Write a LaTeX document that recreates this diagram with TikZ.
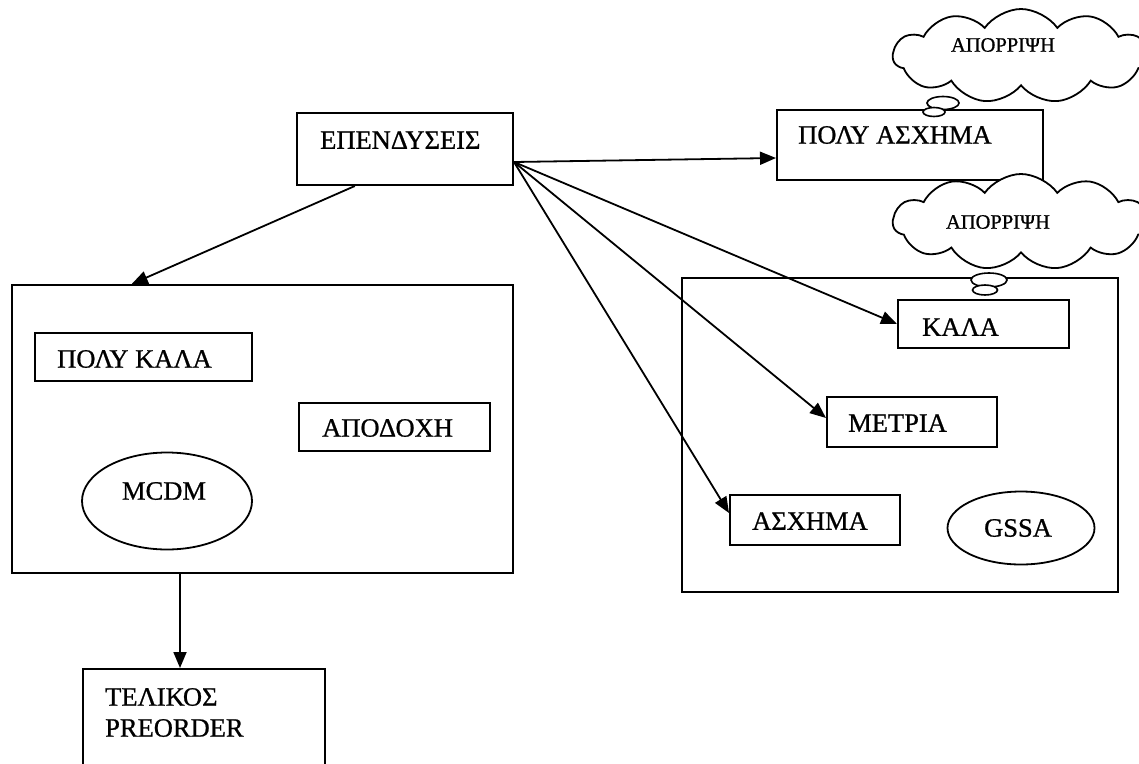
\documentclass[tikz,border=0pt]{standalone}
\usepackage{fontspec}
\setmainfont{Liberation Serif}[FakeBold=0.8]
\usetikzlibrary{arrows.meta,shapes.geometric,shapes.symbols,calc}

\tikzset{
  box/.style={draw, line width=2pt, rectangle, inner sep=0pt},
  oval/.style={draw, line width=1.8pt, ellipse, inner sep=0pt},
  lbl/.style={inner sep=0pt, font=\fontsize{26.5}{29}\selectfont},
  cloudlbl/.style={inner sep=0pt, font=\fontsize{20.5}{22}\selectfont},
  thought/.style={draw, fill=white, line width=1.8pt, cloud, cloud puffs=11,
    cloud puff arc=110, cloud ignores aspect, inner sep=0pt},
  bubble/.style={draw, fill=white, line width=1.6pt, ellipse, inner sep=0pt},
  arr/.style={line width=1.8pt, -{Triangle[length=16pt,width=13pt]}},
}

\begin{document}
\begin{tikzpicture}[x=1pt,y=-1pt]
  \useasboundingbox (0,0) rectangle (1139,763);
  \clip (0,0) rectangle (1139,763);

  % source box
  \node[box, minimum width=216pt, minimum height=72pt] (inv) at (405,149) {};
  \node[lbl, anchor=west] (invT) at (320,140) {ΕΠΕΝΔΥΣΕΙΣ};

  % very bad case, rejected
  \node[box, minimum width=266pt, minimum height=70pt] (pa) at (910,145) {};
  \node[lbl, anchor=west] (paT) at (798,135) {ΠΟΛΥ ΑΣΧΗΜΑ};

  % accepted group
  \node[box, minimum width=501pt, minimum height=288pt] (lgroup) at (262.5,429) {};
  \node[box, minimum width=217pt, minimum height=48pt] (pk) at (143.5,357) {};
  \node[lbl, anchor=west] (pkT) at (57,359) {ΠΟΛΥ ΚΑΛΑ};
  \node[box, minimum width=191pt, minimum height=48pt] (apo) at (394.5,427) {};
  \node[lbl, anchor=west] (apoT) at (322,428) {ΑΠΟΔΟΧΗ};
  \node[oval, minimum width=170pt, minimum height=97pt] (mcdm) at (167,501) {};
  \node[lbl] (mcdmT) at (164,491) {MCDM};

  % group handled by GSSA
  \node[box, minimum width=436pt, minimum height=314pt] (rgroup) at (900,435) {};
  \node[box, minimum width=171pt, minimum height=48pt] (kala) at (983.5,324) {};
  \node[lbl, anchor=west] (kalaT) at (922,327) {ΚΑΛΑ};
  \node[box, minimum width=170pt, minimum height=50pt] (metria) at (912,422) {};
  \node[lbl, anchor=west] (metriaT) at (848,423) {ΜΕΤΡΙΑ};
  \node[box, minimum width=170pt, minimum height=50pt] (asx) at (815,520) {};
  \node[lbl, anchor=west] (asxT) at (752,521) {ΑΣΧΗΜΑ};
  \node[oval, minimum width=147pt, minimum height=73pt] (gssa) at (1021,528) {};
  \node[lbl] (gssaT) at (1018,528) {GSSA};

  % final preorder
  \node[box, minimum width=242pt, minimum height=131pt] (tel) at (204,734.5) {};
  \node[lbl, anchor=west] (telT1) at (105,697) {ΤΕΛΙΚΟΣ};
  \node[lbl, anchor=west] (telT2) at (105,728) {PREORDER};

  % thought clouds
  \node[thought, minimum width=256pt, minimum height=94pt] (c1) at (1021,56) {};
  \node[cloudlbl] (c1T) at (1003,45) {ΑΠΟΡΡΙΨΗ};
  \node[bubble, minimum width=32pt, minimum height=13pt] (c1b1) at (943,103) {};
  \node[bubble, minimum width=22pt, minimum height=9pt] (c1b2) at (934,112) {};

  \node[thought, minimum width=256pt, minimum height=96pt] (c2) at (1021,222) {};
  \node[cloudlbl] (c2T) at (998,222) {ΑΠΟΡΡΙΨΗ};
  \node[bubble, minimum width=36pt, minimum height=14pt] (c2b1) at (989,280) {};
  \node[bubble, minimum width=25pt, minimum height=10pt] (c2b2) at (985,290) {};

  % connectors
  \coordinate (hub) at ($(inv.east)+(0,13)$);
  \draw[arr] (hub) -- ($(pa.west)+(0,13)$);
  \draw[arr] (hub) -- (kala.west);
  \draw[arr] (hub) -- ($(metria.west)+(0,-4)$);
  \draw[arr] (hub) -- ($(asx.west)+(0,-7)$);
  \draw[arr] ($(inv.south west)!0.27!(inv.south east)$)
          -- ($(lgroup.north west)!0.24!(lgroup.north east)$);
  \coordinate (downx) at (180,0);
  \draw[arr] (lgroup.south -| downx) -- (tel.north -| downx);
\end{tikzpicture}
\end{document}
